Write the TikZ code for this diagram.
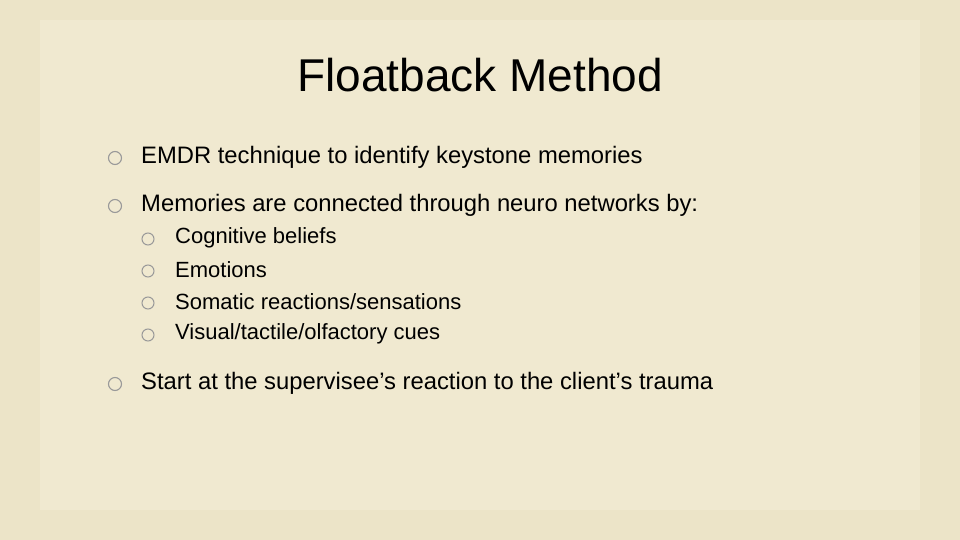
\documentclass[tikz,border=0pt]{standalone}
\usepackage{fontspec}
\setmainfont{Liberation Sans}
\begin{document}
\begin{tikzpicture}[x=1pt,y=-1pt,
  bul/.style={circle,draw=gray!80,line width=1.1pt,inner sep=0pt,minimum size=13pt},
  sbul/.style={circle,draw=gray!80,line width=1pt,inner sep=0pt,minimum size=12pt},
  txt/.style={anchor=west,inner sep=0pt,font=\fontsize{23.8}{26}\selectfont},
  stxt/.style={anchor=west,inner sep=0pt,font=\fontsize{22}{24}\selectfont}]
\fill[color={rgb,255:red,236;green,228;blue,200}] (0,0) rectangle (960,540);
\fill[color={rgb,255:red,240;green,233;blue,208}] (40,20) rectangle (920,510);
\useasboundingbox (0,0) rectangle (960,540);
\node[inner sep=0pt,font=\fontsize{46}{52}\selectfont] (title) at (480,75) {Floatback Method};
\node[bul] (b1) at (115,158) {};
\node[txt] (t1) at (141,157) {EMDR technique to identify keystone memories};
\node[bul] (b2) at (115,206) {};
\node[txt] (t2) at (141,205) {Memories are connected through neuro networks by:};
\node[sbul] (s1) at (148,239) {};
\node[stxt] (u1) at (175,238) {Cognitive beliefs};
\node[sbul] (s2) at (148,271) {};
\node[stxt] (u2) at (175,270) {Emotions};
\node[sbul] (s3) at (148,303) {};
\node[stxt] (u3) at (175,302) {Somatic reactions/sensations};
\node[sbul] (s4) at (148,335) {};
\node[stxt] (u4) at (175,334) {Visual/tactile/olfactory cues};
\node[bul] (b3) at (115,384) {};
\node[txt] (t3) at (141,383) {Start at the supervisee’s reaction to the client’s trauma};
\end{tikzpicture}
\end{document}
